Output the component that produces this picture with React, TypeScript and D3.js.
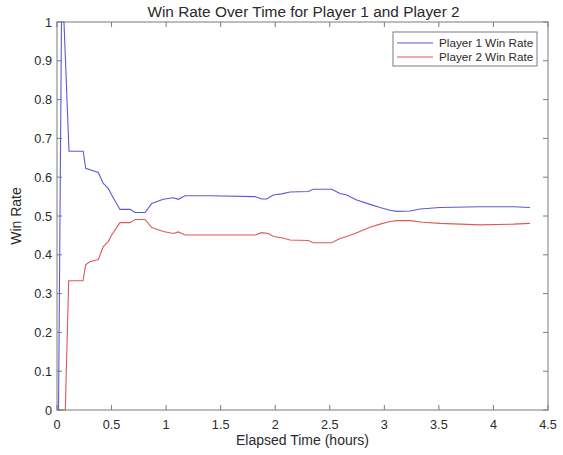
import React from "react";
import * as d3 from "d3";

const title = "Win Rate Over Time for Player 1 and Player 2";
const xLabel = "Elapsed Time (hours)";
const yLabel = "Win Rate";
const seriesNames = ["Player 1 Win Rate", "Player 2 Win Rate"];
const xTicks = [0, 0.5, 1, 1.5, 2, 2.5, 3, 3.5, 4, 4.5];
const yTicks = [0, 0.1, 0.2, 0.3, 0.4, 0.5, 0.6, 0.7, 0.8, 0.9, 1];

const p1Time = [0.014, 0.041, 0.064, 0.11, 0.24, 0.263, 0.379, 0.424, 0.47, 0.501, 0.577, 0.669, 0.715, 0.807, 0.868, 0.974, 1.066, 1.112, 1.173, 1.402, 1.815, 1.876, 1.922, 1.983, 2.06, 2.136, 2.303, 2.349, 2.518, 2.594, 2.655, 2.747, 2.869, 2.961, 3.052, 3.114, 3.236, 3.327, 3.51, 3.877, 4.182, 4.335];
const p1Rate = [0, 1, 1, 0.667, 0.667, 0.623, 0.612, 0.584, 0.571, 0.554, 0.517, 0.517, 0.509, 0.509, 0.532, 0.543, 0.547, 0.543, 0.552, 0.552, 0.55, 0.544, 0.544, 0.554, 0.557, 0.562, 0.563, 0.569, 0.569, 0.558, 0.554, 0.541, 0.53, 0.522, 0.515, 0.512, 0.513, 0.518, 0.522, 0.524, 0.524, 0.522];

const p2Time = [0.009, 0.076, 0.107, 0.238, 0.263, 0.3, 0.379, 0.424, 0.47, 0.501, 0.577, 0.669, 0.715, 0.807, 0.868, 0.974, 1.066, 1.112, 1.173, 1.402, 1.815, 1.876, 1.937, 1.983, 2.06, 2.136, 2.303, 2.349, 2.518, 2.594, 2.655, 2.747, 2.869, 2.961, 3.052, 3.114, 3.236, 3.35, 3.51, 3.877, 4.182, 4.335];
const p2Rate = [0, 0, 0.333, 0.333, 0.374, 0.382, 0.388, 0.421, 0.434, 0.451, 0.483, 0.483, 0.491, 0.491, 0.47, 0.46, 0.455, 0.459, 0.451, 0.451, 0.451, 0.457, 0.455, 0.447, 0.444, 0.438, 0.437, 0.431, 0.431, 0.442, 0.447, 0.457, 0.471, 0.479, 0.486, 0.488, 0.488, 0.484, 0.481, 0.477, 0.479, 0.481];

const colors = ["#5a5ad8", "#e05858"];

export default function App() {
  const W = 563, H = 455;
  const left = 57, right = 548, top = 22, bottom = 410;
  const x = d3.scaleLinear().domain([0, 4.5]).range([left, right]);
  const y = d3.scaleLinear().domain([0, 1]).range([bottom, top]);
  const line = d3.line<[number, number]>().x(d => x(d[0])).y(d => y(d[1]));
  const s1 = p1Time.map((t, i) => [t, p1Rate[i]] as [number, number]);
  const s2 = p2Time.map((t, i) => [t, p2Rate[i]] as [number, number]);
  const font = "'Liberation Sans', Arial, Helvetica, sans-serif";
  const axisColor = "#7a7a7a";
  const textColor = "#2a2a2a";
  const tl = 5;
  return (
    <svg width={W} height={H} style={{ position: "absolute", left: 0, top: 0, background: "#fff" }} fontFamily={font}>
      <rect x={0} y={0} width={W} height={H} fill="#fff" />
      <defs>
        <clipPath id="plotclip">
          <rect x={left} y={top - 1} width={right - left} height={bottom - top + 2} />
        </clipPath>
      </defs>
      <text x={(left + right) / 2 + 1} y={17} textAnchor="middle" fontSize={15.4} fill={textColor}>{title}</text>
      {/* lines */}
      <g clipPath="url(#plotclip)">
        <path d={line(s1) || ""} fill="none" stroke={colors[0]} strokeWidth={1.1} />
        <path d={line(s2) || ""} fill="none" stroke={colors[1]} strokeWidth={1.1} />
      </g>
      {/* box */}
      <rect x={left} y={top} width={right - left} height={bottom - top} fill="none" stroke={axisColor} strokeWidth={1} />
      {xTicks.map(t => (
        <g key={"x" + t}>
          <line x1={x(t)} x2={x(t)} y1={bottom} y2={bottom - tl} stroke={axisColor} />
          <line x1={x(t)} x2={x(t)} y1={top} y2={top + tl} stroke={axisColor} />
          <text x={x(t)} y={bottom + 19} textAnchor="middle" fontSize={12.7} fill={textColor}>{String(t)}</text>
        </g>
      ))}
      {yTicks.map(t => (
        <g key={"y" + t}>
          <line x1={left} x2={left + tl} y1={y(t)} y2={y(t)} stroke={axisColor} />
          <line x1={right} x2={right - tl} y1={y(t)} y2={y(t)} stroke={axisColor} />
          <text x={left - 5} y={y(t) + 4.5} textAnchor="end" fontSize={12.7} fill={textColor}>{String(t)}</text>
        </g>
      ))}
      <text x={(left + right) / 2} y={445} textAnchor="middle" fontSize={14} fill={textColor}>{xLabel}</text>
      <text transform={`translate(21, ${(top + bottom) / 2}) rotate(-90)`} textAnchor="middle" fontSize={14} fill={textColor}>{yLabel}</text>
      {/* legend */}
      <g>
        <rect x={393} y={32} width={144} height={34} fill="#fff" stroke={axisColor} />
        {seriesNames.map((n, i) => (
          <g key={n}>
            <line x1={397} x2={433} y1={43 + i * 14} y2={43 + i * 14} stroke={colors[i]} strokeWidth={1.1} />
            <text x={439} y={47 + i * 14} fontSize={11.7} fill={textColor}>{n}</text>
          </g>
        ))}
      </g>
    </svg>
  );
}
